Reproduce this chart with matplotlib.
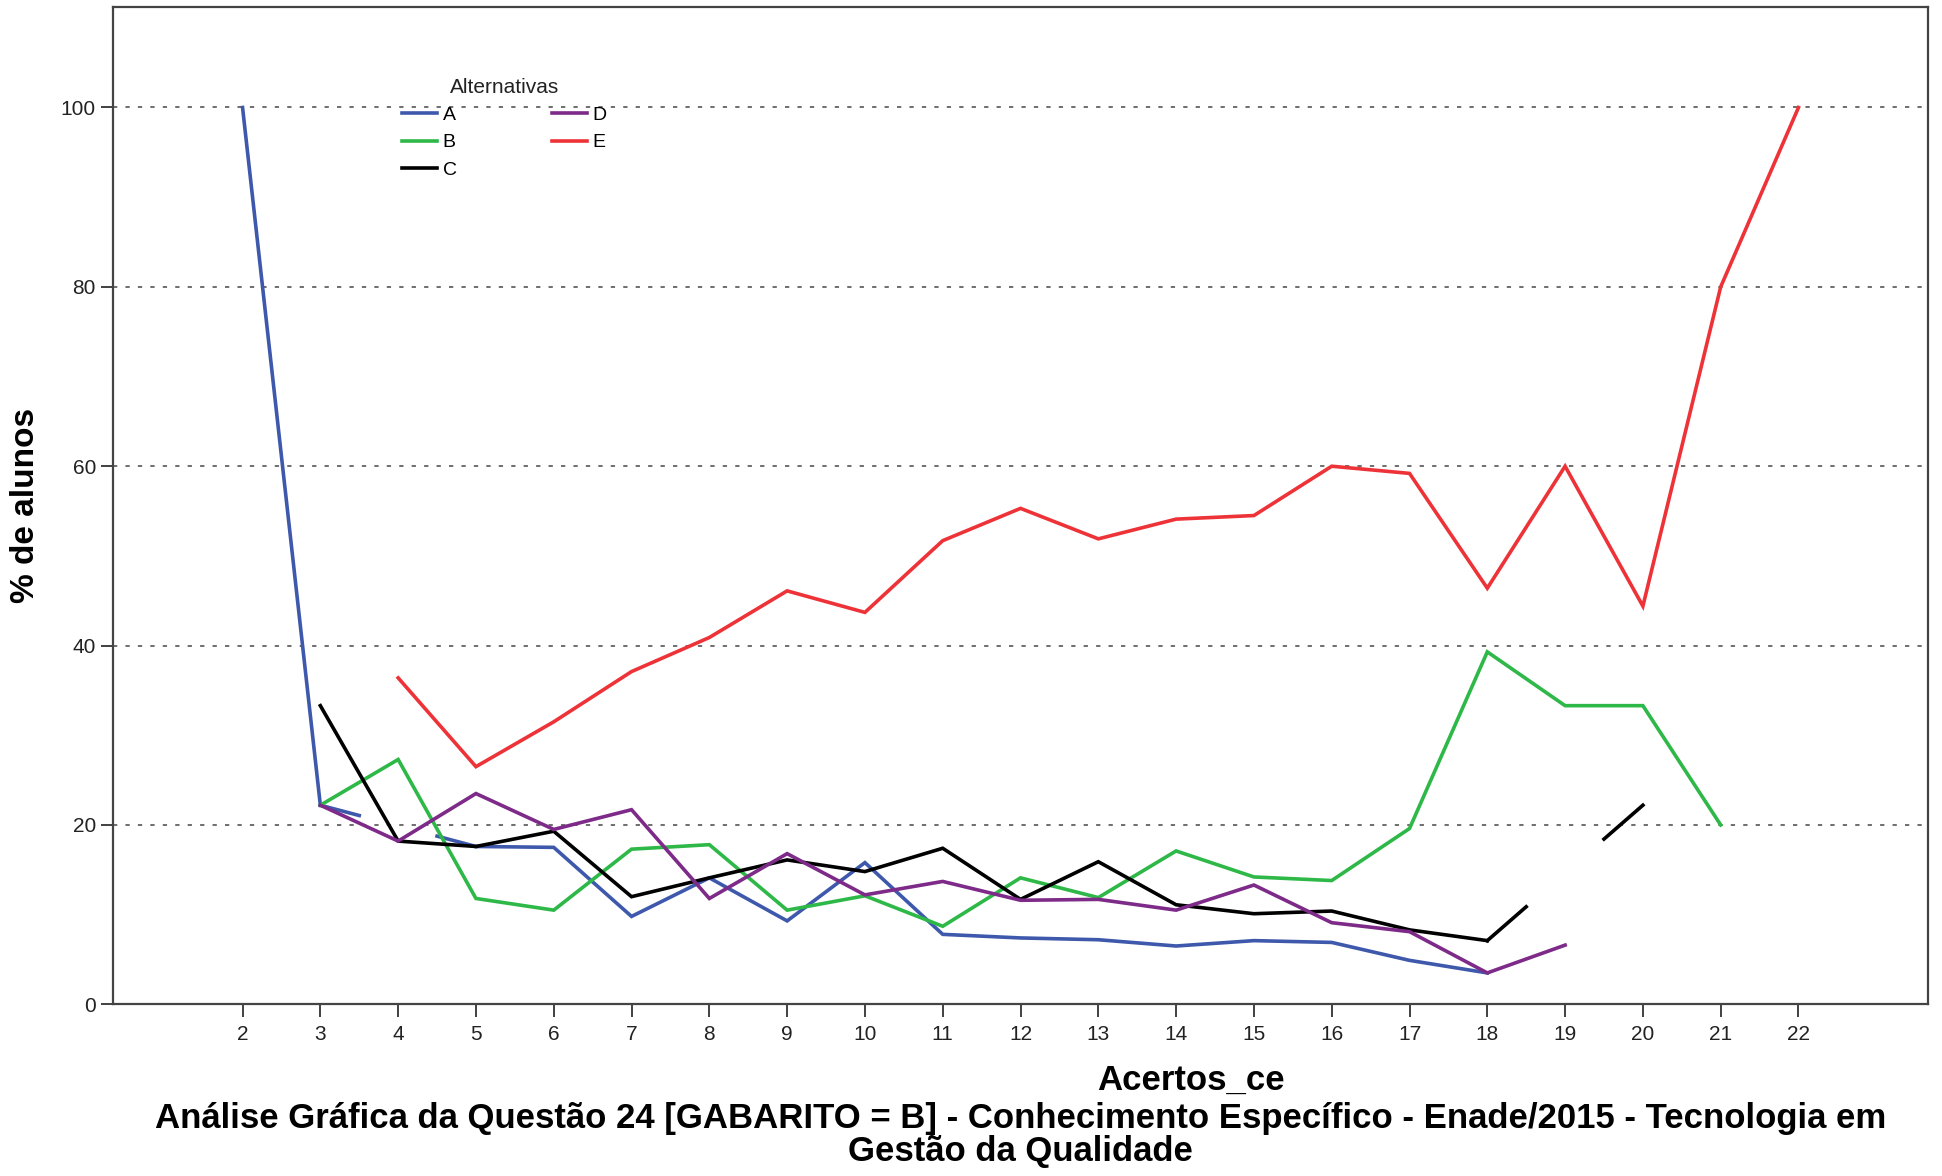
import matplotlib
matplotlib.use("Agg")
import matplotlib.pyplot as plt
import numpy as np

nan = np.nan

# Acertos na parte de conhecimento específico (eixo x)
ACERTOS = list(range(2, 23))

# % de alunos que marcaram cada alternativa, por número de acertos
ALT_A = [100.0, 22.2, nan, 17.6, 17.5, 9.8, 14.1, 9.3, 15.8, 7.8, 7.4,
         7.2, 6.5, 7.1, 6.9, 4.9, 3.5, nan, nan, nan, nan]
ALT_B = [nan, 22.2, 27.3, 11.8, 10.5, 17.3, 17.8, 10.5, 12.1, 8.7, 14.1,
         11.9, 17.1, 14.2, 13.8, 19.6, 39.3, 33.3, 33.3, 20.0, nan]
ALT_C = [nan, 33.3, 18.2, 17.6, 19.3, 12.0, 14.1, 16.1, 14.8, 17.4, 11.7,
         15.9, 11.1, 10.1, 10.4, 8.3, 7.1, nan, 22.2, nan, nan]
ALT_D = [nan, 22.2, 18.2, 23.5, 19.5, 21.7, 11.8, 16.8, 12.2, 13.7, 11.6,
         11.7, 10.5, 13.3, 9.1, 8.1, 3.5, 6.6, nan, nan, nan]
ALT_E = [nan, nan, 36.4, 26.5, 31.5, 37.1, 40.9, 46.1, 43.7, 51.7, 55.3,
         51.9, 54.1, 54.5, 60.0, 59.2, 46.4, 60.0, 44.4, 80.0, 100.0]

SERIES = [("A", ALT_A, "#3e58ac"),
          ("B", ALT_B, "#2eb848"),
          ("C", ALT_C, "#000000"),
          ("D", ALT_D, "#7d2a88"),
          ("E", ALT_E, "#ee3338")]

YTICKS = [0, 20, 40, 60, 80, 100]

plt.rcParams["font.family"] = ["Liberation Sans", "DejaVu Sans"]
LW = 2.6


def draw_series(ax, xs, ys, color, label):
    xs = np.asarray(xs, dtype=float)
    ys = np.asarray(ys, dtype=float)
    ax.plot(xs, ys, color=color, lw=LW, label=label, solid_joinstyle="miter",
            zorder=3)
    # a missing category between two valid ones: draw half a segment from
    # each side along the straight line that would join them
    ok = np.flatnonzero(~np.isnan(ys))
    for i0, i1 in zip(ok[:-1], ok[1:]):
        if i1 - i0 > 1:
            x0, x1 = xs[i0], xs[i1]
            for a, b in ((x0, x0 + 0.5), (x1 - 0.5, x1)):
                seg_x = [a, b]
                seg_y = np.interp(seg_x, [x0, x1], [ys[i0], ys[i1]])
                ax.plot(seg_x, seg_y, color=color, lw=LW, zorder=3)


fig = plt.figure(figsize=(19.42, 11.76), dpi=100)
ax = fig.add_axes([0.058, 0.146, 0.935, 0.848])

for name, vals, col in SERIES:
    draw_series(ax, ACERTOS, vals, col, name)

ax.set_xlim(0.33, 23.67)
ax.set_ylim(0, 111.2)
ax.set_xticks(ACERTOS)
ax.set_yticks(YTICKS)
ax.tick_params(axis="both", direction="out", length=9, width=1.3,
               color="#333333", labelsize=15, labelcolor="#222222")
ax.tick_params(axis="x", pad=6)
ax.tick_params(axis="y", pad=3)

for y in YTICKS[1:]:
    ax.axhline(y, color="#6e6e6e", lw=1.4, ls=(0, (2.2, 4.2)), zorder=1)

for side in ax.spines.values():
    side.set_color("#444444")
    side.set_linewidth(1.6)

ax.set_ylabel("% de alunos", fontsize=24, fontweight="bold", labelpad=14)

leg = ax.legend(ncol=2, loc="upper left", bbox_to_anchor=(0.155, 0.937),
                frameon=False, title="Alternativas", fontsize=14,
                title_fontsize=15, handlelength=1.8, handletextpad=0.3,
                columnspacing=4.9, labelspacing=0.5, borderaxespad=0)
leg.get_title().set_color("#222222")

fig.text(0.6135, 0.081, "Acertos_ce", ha="center", va="center",
         fontsize=25, fontweight="bold")
fig.text(0.5255, 0.035,
         "Análise Gráfica da Questão 24 [GABARITO = B] - Conhecimento "
         "Específico - Enade/2015 - Tecnologia em\nGestão da Qualidade",
         ha="center", va="center", fontsize=25, fontweight="bold",
         linespacing=0.98)

fig.savefig("out.png", dpi=100, facecolor="white")
